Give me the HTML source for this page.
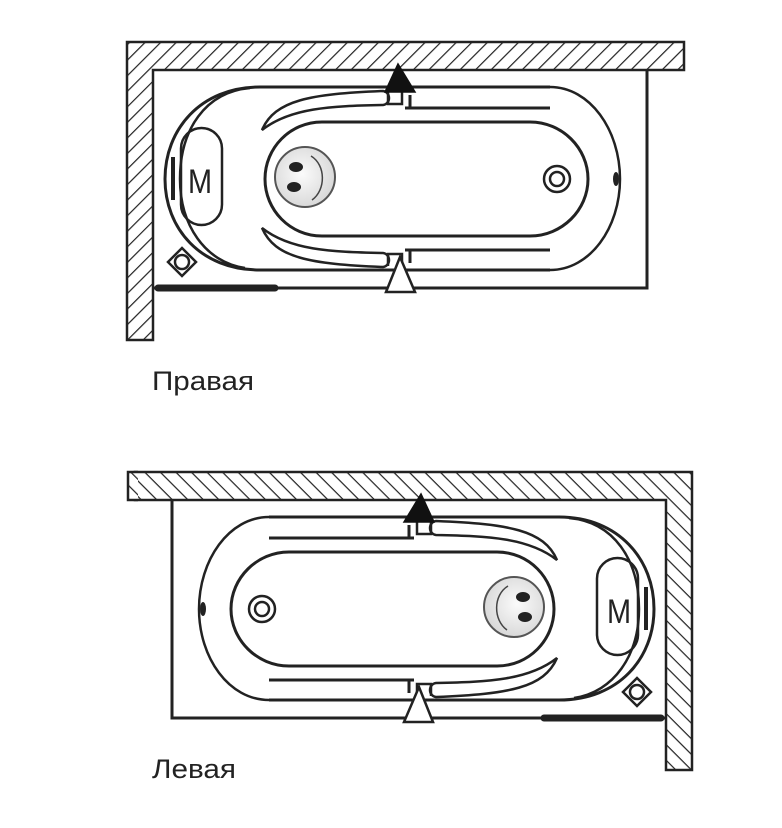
<!DOCTYPE html>
<html><head><meta charset="utf-8"><style>
html,body{margin:0;padding:0;background:#fff;}
svg{display:block;}
text{font-family:"Liberation Sans",Arial,sans-serif;fill:#222;}
</style></head><body>
<svg width="782" height="828" viewBox="0 0 782 828" xmlns="http://www.w3.org/2000/svg">
<defs>
<pattern id="h" patternUnits="userSpaceOnUse" width="11" height="11" patternTransform="rotate(45)">
<rect width="11" height="11" fill="#fff"/>
<line x1="0" y1="0" x2="0" y2="11" stroke="#222" stroke-width="2.4"/>
</pattern>
<pattern id="h2" patternUnits="userSpaceOnUse" width="11" height="11" patternTransform="rotate(-45)">
<rect width="11" height="11" fill="#fff"/>
<line x1="0" y1="0" x2="0" y2="11" stroke="#222" stroke-width="2.4"/>
</pattern>
<radialGradient id="sg" cx="0.45" cy="0.45" r="0.6">
<stop offset="0" stop-color="#fbfbfb"/><stop offset="1" stop-color="#d6d6d6"/>
</radialGradient>
<g id="bath" fill="none" stroke="#222" stroke-width="3">
<path d="M127 42 H684 V70 H153 V340 H127 Z" fill="url(#h)" stroke="#222" stroke-width="2.5"/>
<path d="M153 288 H647 V70" />
<line x1="158" y1="288" x2="275" y2="288" stroke-width="7" stroke-linecap="round"/>
<path d="M550 87 H260 C200 87 165 130 165 179 C165 228 200 270 260 270 H550"/>
<path d="M550 87 C590 87 620 130 620 179 C620 228 590 270 550 270" stroke-width="2.5"/>
<path d="M250 88 C205 92 180 130 180 179 C180 225 205 262 245 268" stroke-width="2.5"/>
<line x1="173" y1="157" x2="173" y2="200" stroke-width="4"/>
<path d="M530 122 H322 C290 122 265 148 265 179 C265 210 290 236 322 236 H530 C562 236 588 210 588 179 C588 148 562 122 530 122" />
<path d="M410 95 V108 H550 M405 108 H412"/>
<path d="M410 263 V250 H550 M405 250 H412"/>
<path d="M262 130 C275 100 310 94 383 91 C391 92 391 104 383 105 C330 106 290 108 262 130 Z" stroke-width="2.5"/>
<path d="M262 228 C275 258 310 264 383 267 C391 266 391 254 383 253 C330 252 290 250 262 228 Z" stroke-width="2.5"/>
<path d="M388 92 V104 H402 V92" stroke-width="2.5"/>
<path d="M388 266 V254 H402 V266" stroke-width="2.5"/>
<path d="M398 64 L385 92 H415 Z" fill="#111" stroke="#111" stroke-width="1.5"/>
<path d="M400 257 L386 292 H415 Z" fill="#fff" stroke-width="2.5"/>
<rect x="181" y="128" width="41" height="97" rx="20.5" stroke-width="2.5"/>
<circle cx="305" cy="177" r="30" fill="url(#sg)" stroke="#555" stroke-width="2"/>
<ellipse cx="296" cy="167" rx="7" ry="5" fill="#222" stroke="none"/>
<ellipse cx="294" cy="187" rx="7" ry="5" fill="#222" stroke="none"/>
<path d="M311 156 C326 165 326 190 312 200" stroke="#444" stroke-width="1.5"/>
<circle cx="557" cy="179" r="13" stroke-width="2.5"/>
<circle cx="557" cy="179" r="7" stroke-width="2.5"/>
<ellipse cx="616" cy="179" rx="3" ry="7" fill="#222" stroke="none"/>
<path d="M182 248 L196 262 L182 276 L168 262 Z" stroke-width="2.5"/>
<circle cx="182" cy="262" r="7" stroke-width="2.5"/>
</g>
</defs>
<use href="#bath"/>
<text x="200" y="193" font-size="34" text-anchor="middle" transform="translate(200,0) scale(0.85,1) translate(-200,0)">M</text>
<g transform="translate(819,430) scale(-1,1)"><use href="#bath"/></g>
<rect x="128" y="472" width="10" height="28" fill="url(#h2)" stroke="none"/>
<path d="M138 472 H128 V500 H138" fill="none" stroke="#222" stroke-width="2.5"/>
<text x="619" y="623" font-size="34" text-anchor="middle" transform="translate(619,0) scale(0.85,1) translate(-619,0)">M</text>
<text x="152" y="390" font-size="27" textLength="102" lengthAdjust="spacingAndGlyphs">Правая</text>
<text x="152" y="778" font-size="27" textLength="84" lengthAdjust="spacingAndGlyphs">Левая</text>
</svg>
</body></html>
